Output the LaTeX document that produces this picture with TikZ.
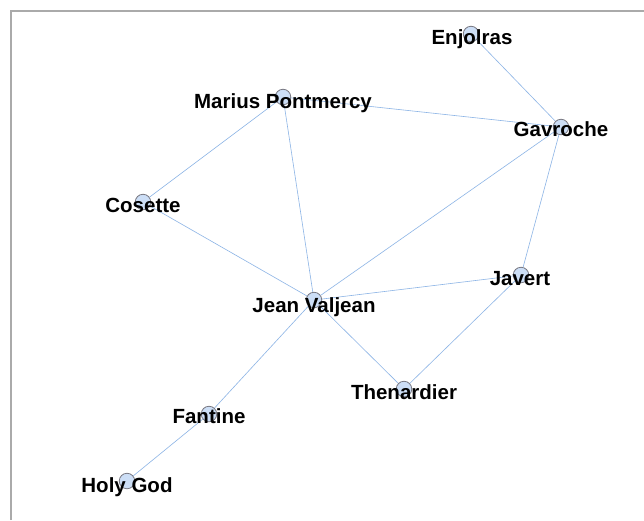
\documentclass[tikz,border=0pt]{standalone}
\usepackage{fontspec}
\setmainfont{Liberation Sans}
\definecolor{vertexfill}{RGB}{204,222,246}
\definecolor{vertexline}{RGB}{120,120,130}
\definecolor{linkblue}{RGB}{140,180,230}
\definecolor{framegray}{RGB}{170,170,170}
\tikzstyle{vertex} = [circle, minimum size=15.5pt, inner sep=0pt, fill=vertexfill, draw=vertexline, line width=0.8pt]
\tikzstyle{charname} = [font=\bfseries\fontsize{20.5}{20.5}\selectfont, text=black, inner sep=0pt, anchor=base]
\tikzstyle{link} = [linkblue, line width=0.6pt]

\begin{document}
\begin{tikzpicture}[x=1pt, y=-1pt]
    \useasboundingbox (0,0) rectangle (644,520);
    \fill[white] (0,0) rectangle (644,520);
    \draw[framegray, line width=2pt] (11,520) -- (11,11) -- (644,11);

    % characters
    \node (enjolras) [vertex] at (471,34) {};
    \node (marius) [vertex] at (283,97) {};
    \node (gavroche) [vertex] at (561,127) {};
    \node (cosette) [vertex] at (143,202) {};
    \node (javert) [vertex] at (521,275) {};
    \node (valjean) [vertex] at (314,300) {};
    \node (thenardier) [vertex] at (404,389) {};
    \node (fantine) [vertex] at (209,414) {};
    \node (holygod) [vertex] at (127,481) {};

    % relations
    \draw[link] (enjolras) -- (gavroche);
    \draw[link] (marius) -- (gavroche);
    \draw[link] (marius) -- (cosette);
    \draw[link] (marius) -- (valjean);
    \draw[link] (gavroche) -- (valjean);
    \draw[link] (gavroche) -- (javert);
    \draw[link] (cosette) -- (valjean);
    \draw[link] (valjean) -- (javert);
    \draw[link] (valjean) -- (thenardier);
    \draw[link] (javert) -- (thenardier);
    \draw[link] (valjean) -- (fantine);
    \draw[link] (fantine) -- (holygod);

    % names
    \node (enjolrasName) [charname] at (472,44) {Enjolras};
    \node (mariusName) [charname] at (283,108) {Marius Pontmercy};
    \node (gavrocheName) [charname] at (561,136) {Gavroche};
    \node (cosetteName) [charname] at (143,212) {Cosette};
    \node (javertName) [charname] at (520,285) {Javert};
    \node (valjeanName) [charname] at (314,312) {Jean Valjean};
    \node (thenardierName) [charname] at (404,399) {Thenardier};
    \node (fantineName) [charname] at (209,423) {Fantine};
    \node (holygodName) [charname] at (127,492) {Holy God};
\end{tikzpicture}
\end{document}
